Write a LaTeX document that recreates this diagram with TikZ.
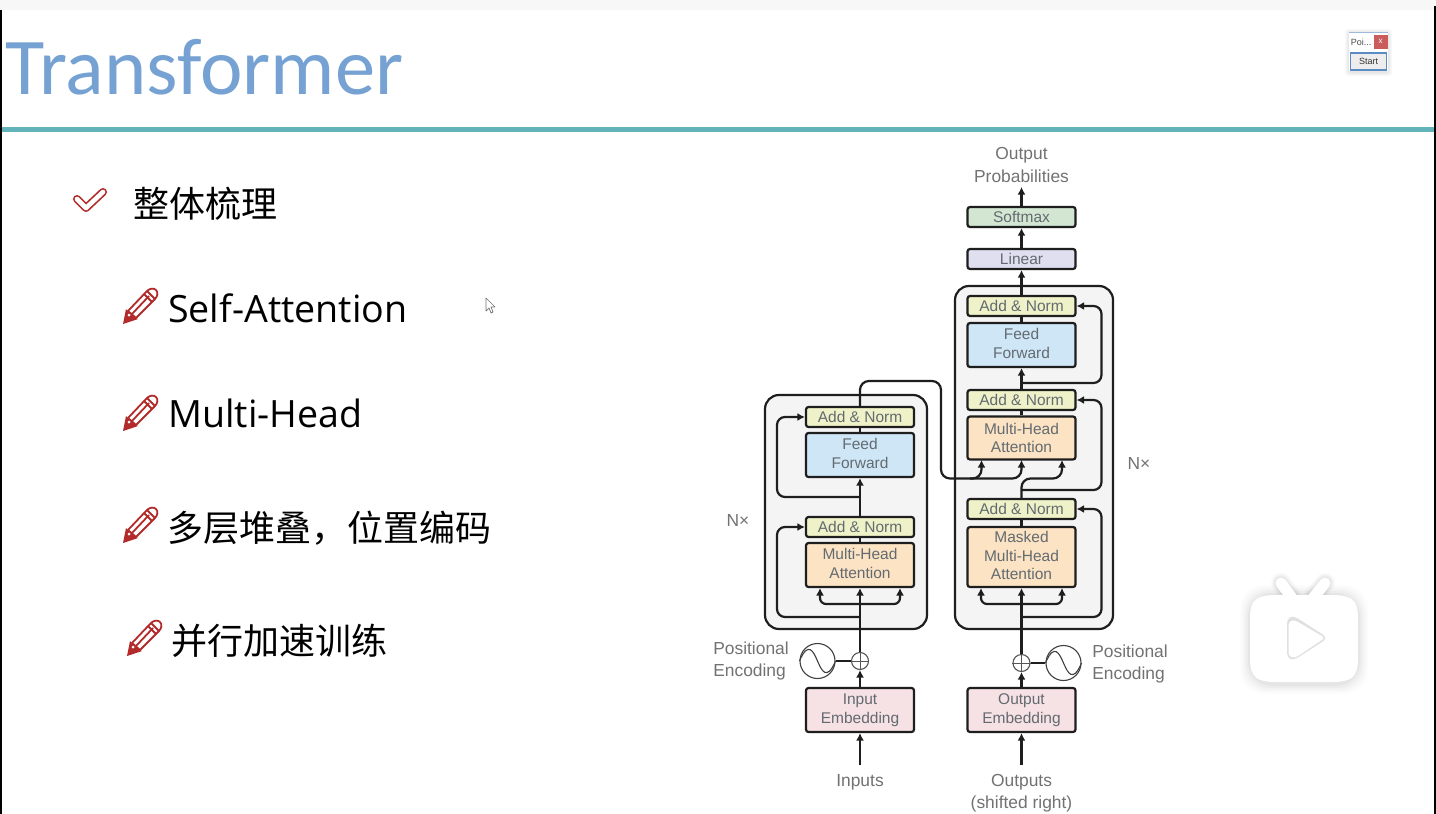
\documentclass[tikz,border=0pt]{standalone}
\usepackage{fontspec}
\setmainfont{Open Sans}
\newfontfamily\cjk{Noto Sans CJK SC}
\newfontfamily\titlefont{Carlito}
\newfontfamily\diagfont{Liberation Sans}
\usetikzlibrary{arrows.meta,positioning,calc}
\definecolor{inkc}{HTML}{1E1E1E}
\definecolor{labelc}{HTML}{727272}
\definecolor{boxtxt}{HTML}{636B70}
\definecolor{yelc}{HTML}{EFF2C8}
\definecolor{bluec}{HTML}{CFE6F7}
\definecolor{orac}{HTML}{FBE3C4}
\definecolor{pinc}{HTML}{F6E1E4}
\definecolor{grnc}{HTML}{D3E6D2}
\definecolor{purc}{HTML}{E0DFF0}
\definecolor{panelc}{HTML}{F4F4F4}
\definecolor{titlec}{HTML}{76A2D3}
\definecolor{tealc}{HTML}{62B4BA}
\definecolor{redc}{HTML}{B22A2A}
\definecolor{closec}{HTML}{CB5C5C}
\definecolor{startc}{HTML}{5B8BC5}
\newcommand{\dn}{\rule[-3.2pt]{0pt}{3.2pt}}
\tikzset{
  x=1pt,y=-1pt,
  blk/.style={draw=inkc,line width=2.2pt,rounded corners=2.5pt,minimum width=108pt,align=center,inner sep=0pt,text=boxtxt,
     font=\diagfont\fontsize{15.5}{18.7}\selectfont},
  thinb/.style={blk,minimum height=20pt},
  panel/.style={draw=inkc,line width=2.2pt,rounded corners=14pt,fill=panelc},
  conn/.style={draw=inkc,line width=2.2pt,rounded corners=8pt},
  arr/.style={conn,-{Latex[length=7.5pt,width=8pt]}},
  lab/.style={text=labelc,align=center,inner sep=0pt,font=\diagfont\fontsize{17.4}{22.4}\selectfont},
  item/.style={anchor=west,inner sep=0pt,text=black},
  icon/.style={draw=redc,line width=1.8pt,line join=round},
}
\newcommand{\pencilicon}[2]{%
 \begin{scope}[shift={(#1,#2)},x=1pt,y=-1pt]
  \draw[icon,fill=white] (5,-6) -- (24,-26) .. controls (27,-29) and (31,-29) .. (33,-27) .. controls (35,-25) and (35,-21) .. (32,-18) -- (13,1) -- cycle;
  \fill[redc] (0,7) -- (3,-8) -- (7,-3) -- (11,0) -- (15,2) -- cycle;
  \fill[white] (6,-2) circle (1.5pt);
  \draw[icon] (9,-3) -- (26,-21);
  \draw[icon] (24,-26) -- (32,-18);
  \draw[icon] (21,-23) -- (29,-15);
 \end{scope}}
\begin{document}
\begin{tikzpicture}
\useasboundingbox (0,0) rectangle (1436,814);
\fill[white] (0,0) rectangle (1436,814);
\fill[black!3] (0,0) rectangle (1436,10);
% title
\node[anchor=west,inner sep=0pt,text=titlec,font=\titlefont\fontsize{80.5}{90}\selectfont] (title) at (5,67) {Transformer};
\fill[tealc] (0,126.5) rectangle (1436,131.5);
\fill[black] (0,10) rectangle (2,814);
\fill[black] (1434,6) rectangle (1436,814);
% widget
\foreach \o in {4,3,2,1}{\fill[black,opacity=.025,rounded corners=3pt] (1349-\o,33-\o) rectangle (1388+\o,71+\o+1);}
\fill[white] (1349,33) rectangle (1388,71);
\draw[startc!60,line width=.7pt] (1349,32.5) -- (1388,32.5);
\node[inner sep=0pt,text=black!70,font=\diagfont\fontsize{9}{10}\selectfont] (poi) at (1361,42) {Poi...};
\node[fill=closec,inner sep=0pt,minimum width=14pt,minimum height=14pt,text=white,font=\diagfont\fontsize{8}{9}\selectfont] (close) at (1380.5,41.5) {x};
\node[draw=startc,line width=1.3pt,fill=black!7,inner sep=0pt,minimum width=36pt,minimum height=17pt,text=black!80,font=\diagfont\fontsize{9}{10}\selectfont] (start) at (1368.5,61.5) {Start};
% list
\draw[redc,line width=8pt,line cap=round,line join=round] (77,199) -- (86,208) -- (103,192);
\draw[white,line width=4.6pt,line cap=round,line join=round] (77,199) -- (86,208) -- (103,192);
\node[item,font=\cjk\fontsize{36}{40}\selectfont] (t1) at (133,204) {整体梳理};
\pencilicon{123}{317}
\node[item,font=\fontsize{37.6}{40}\selectfont] (t2) at (168,308) {Self-Attention};
\pencilicon{123}{424}
\node[item,font=\fontsize{37.6}{40}\selectfont] (t3) at (168,413) {Multi-Head};
\pencilicon{123}{536}
\node[item,font=\cjk\fontsize{36}{40}\selectfont] (t4) at (167,528) {多层堆叠，位置编码};
\pencilicon{127}{649}
\node[item,font=\cjk\fontsize{36}{40}\selectfont] (t5) at (171,641) {并行加速训练};
% cursor
\draw[black!55,line width=.7pt,fill=white,line join=round] (486,298) -- (486,311) -- (489,308) -- (491,313) -- (493,312) -- (491,307) -- (495,307) -- cycle;
% panels
\draw[panel] (765,395) rectangle (927,629);
\draw[panel] (955,286) rectangle (1113,629);
% encoder nodes
\node[thinb,fill=yelc] (an1) at (860,417) {Add \& Norm};
\node[blk,fill=bluec,minimum height=44pt] (ff1) at (860,455) {Feed\\Forward\dn};
\node[thinb,fill=yelc] (an2) at (860,527) {Add \& Norm};
\node[blk,fill=orac,minimum height=44pt] (mh1) at (860,565) {Multi-Head\\Attention\dn};
\node[blk,fill=pinc,minimum height=44pt] (ie) at (860,710) {Input\\Embedding};
% decoder nodes
\node[thinb,fill=grnc] (sm) at (1021.5,217) {Softmax};
\node[thinb,fill=purc] (li) at (1021.5,259) {Linear};
\node[thinb,fill=yelc] (an3) at (1021.5,306) {Add \& Norm};
\node[blk,fill=bluec,minimum height=44pt] (ff2) at (1021.5,345) {Feed\\Forward\dn};
\node[thinb,fill=yelc] (an4) at (1021.5,400) {Add \& Norm};
\node[blk,fill=orac,minimum height=43pt] (mh2) at (1021.5,438) {Multi-Head\\Attention};
\node[thinb,fill=yelc] (an5) at (1021.5,509) {Add \& Norm};
\node[blk,fill=orac,minimum height=60pt] (mm) at (1021.5,557) {Masked\\Multi-Head\\Attention\dn};
\node[blk,fill=pinc,minimum height=44pt] (oe) at (1021.5,710) {Output\\Embedding};
% positional encoding
\node[circle,draw=inkc!75,line width=1.1pt,minimum size=17pt,inner sep=0pt] (pl) at (860,661) {};
\node[circle,draw=inkc!85,line width=1.1pt,minimum size=35pt,inner sep=0pt] (sl) at (817.5,661) {};
\node[circle,draw=inkc!75,line width=1.1pt,minimum size=17pt,inner sep=0pt] (pr) at (1021.5,663) {};
\node[circle,draw=inkc!85,line width=1.1pt,minimum size=35pt,inner sep=0pt] (sr) at (1063.5,663) {};
\foreach \c in {pl,pr}{\draw[inkc!75,line width=.9pt] (\c.west) -- (\c.east) (\c.north) -- (\c.south);}
\foreach \c in {sl,sr}{\draw[inkc!85,line width=1.1pt] (\c.west) .. controls ($(\c.center)+(-9,-21)$) and ($(\c.center)+(-4,-9)$) .. (\c.center) .. controls ($(\c.center)+(4,9)$) and ($(\c.center)+(9,21)$) .. (\c.east);}
\draw[inkc,line width=1.5pt] (sl) -- (pl);
\draw[inkc,line width=1.5pt] (pr) -- (sr);
% labels
\node[lab] (oprob) at (1021.5,165) {Output\\Probabilities};
\node[lab] (nl) at (738,521) {N×};
\node[lab] (nr) at (1139,464) {N×};
\node[lab,align=left] (pel) at (751,661) {Positional\\Encoding};
\node[lab,align=left] (per) at (1130,664) {Positional\\Encoding};
\node[lab] (inp) at (860,782) {Inputs};
\node[lab] (outp) at (1021.5,793) {Outputs\\(shifted right)};
% free ends
\coordinate (inS) at (860,765);
\coordinate (outS) at (1021.5,765);
\coordinate (opT) at (1021.5,187);
% straight connectors
\draw[arr] (inS) -- (ie);
\draw[arr] (outS) -- (oe);
\draw[arr] (ie) -- (pl);
\draw[arr] (oe) -- (pr);
\draw[arr] (pl) -- (mh1);
\draw[arr] (pr) -- (mm);
\draw[conn] (mh1) -- (an2);
\draw[arr] (an2) -- (ff1);
\draw[conn] (ff1) -- (an1);
\draw[conn] (mm) -- (an5);
\draw[conn] (mh2) -- (an4);
\draw[conn] (ff2) -- (an3);
\draw[arr] (an4) -- (ff2);
\draw[arr] (an3) -- (li);
\draw[arr] (li) -- (sm);
\draw[arr] (sm) -- (opT);
% residuals
\coordinate (rL1) at (860,617);
\coordinate (rL2) at (860,497);
\coordinate (rR1) at (1021.5,617);
\coordinate (rR2) at (1021.5,490);
\coordinate (rR3) at (1021.5,383);
\draw[arr] (rL1) -- (777,617) -- (777,527) -- (an2.west);
\draw[arr] (rL2) -- (777,497) -- (777,417) -- (an1.west);
\draw[arr] (rR1) -- (1101.5,617) -- (1101.5,509) -- (an5.east);
\draw[arr] (rR2) -- (1101.5,490) -- (1101.5,400) -- (an4.east);
\draw[arr] (rR3) -- (1101.5,383) -- (1101.5,306) -- (an3.east);
% three-way inputs
\coordinate (tL) at (860,604);
\coordinate (tR) at (1021.5,604);
\draw[arr,rounded corners=6pt] (tL) -- (820,604) -- (820,588);
\draw[arr,rounded corners=6pt] (tL) -- (900,604) -- (900,588);
\draw[arr,rounded corners=6pt] (tR) -- (981,604) -- (981,588);
\draw[arr,rounded corners=6pt] (tR) -- (1062,604) -- (1062,588);
% encoder-decoder
\coordinate (dA) at (981.5,460);
\coordinate (dB) at (1021.5,460);
\coordinate (dC) at (1062,460);
\coordinate (bend) at (941,478.5);
\coordinate (split) at (970,478.5);
\draw[arr,rounded corners=9pt] (an5.north) -- (1021.5,478.5) -- (1062,478.5) -- (dC);
\draw[arr,rounded corners=9pt] (an1.north) -- (860,381) -- (941,381) -- (bend) -- (981.5,478.5) -- (dA);
\draw[arr,rounded corners=9pt] (split) -- (1021.5,478.5) -- (dB);
% play logo
\begin{scope}
 \foreach \o/\a in {10/.012,8/.016,6/.02,4/.024,2/.03}{
  \draw[black,opacity=\a,line width=11pt+\o pt,line cap=round] (1281,583) -- (1292,598);
  \draw[black,opacity=\a,line width=11pt+\o pt,line cap=round] (1325,583) -- (1313,598);
  \fill[black,opacity=\a,rounded corners=24pt] (1250-\o,595-\o) rectangle (1358+\o,682+\o+2);}
 \draw[white,line width=11pt,line cap=round] (1281,583) -- (1292,598);
 \draw[white,line width=11pt,line cap=round] (1325,583) -- (1313,598);
 \fill[white] (1250,618) .. controls (1250,598) and (1258,595) .. (1278,595) -- (1330,595) .. controls (1350,595) and (1358,598) .. (1358,618) -- (1358,659) .. controls (1358,679) and (1350,682) .. (1330,682) -- (1278,682) .. controls (1258,682) and (1250,679) .. (1250,659) -- cycle;
 \fill[black!12] (1287,625) .. controls (1287,617) and (1291,615) .. (1297,618) -- (1322,634) .. controls (1326,636) and (1326,640) .. (1322,642) -- (1297,658) .. controls (1291,661) and (1287,659) .. (1287,651) -- cycle;
 \fill[white] (1288.5,627) .. controls (1288.5,620) and (1293,619) .. (1298,622) -- (1321,635.5) .. controls (1324,637) and (1324,639) .. (1321,640.5) -- (1298,656) .. controls (1293,659) and (1288.5,658) .. (1288.5,651) -- cycle;
\end{scope}
\end{tikzpicture}
\end{document}
